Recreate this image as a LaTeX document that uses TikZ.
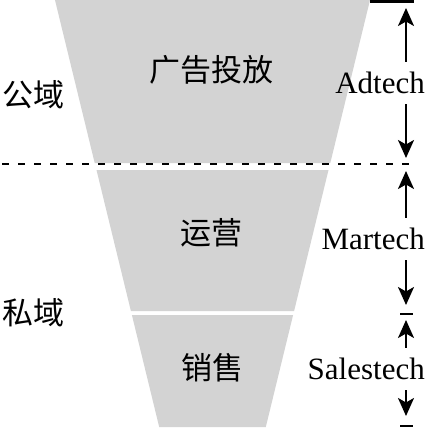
\documentclass[tikz,border=0pt]{standalone}
\usepackage{fontspec}
\setmainfont{Liberation Serif}
\newfontfamily\cjk{Noto Sans CJK SC}
\usetikzlibrary{arrows.meta}
\definecolor{funnelgray}{RGB}{211,211,211}
\tikzset{
  layer/.style={fill=funnelgray},
  cntext/.style={font=\cjk\fontsize{31}{36}\selectfont},
  techlabel/.style={font=\fontsize{31}{36}\selectfont, anchor=east, inner xsep=0pt, inner ysep=10pt},
  span/.style={->, line width=2.2pt},
  tickbar/.style={line width=2.5pt},
  divider/.style={dash pattern=on 7pt off 9pt, line width=2pt},
}
\begin{document}
\begin{tikzpicture}[x=1pt, y=-1pt, >={Stealth[length=18pt, width=16pt, inset=4.5pt]}]
    \useasboundingbox (0,0) rectangle (426,431);
    \clip (0,0) rectangle (426,431);

    % Trichter
    \fill [layer] (50.1,-20) -- (374.9,-20) -- (330.3,163) -- (94.7,163) -- cycle;
    \fill [layer] (96.5,170) -- (328.5,170) -- (294.1,311) -- (130.9,311) -- cycle;
    \fill [layer] (131.9,315) -- (293.1,315) -- (265.8,427) -- (159.2,427) -- cycle;

    % Texte im Trichter
    \node [cntext] (ads) at (211,70) {广告投放};
    \node [cntext] (ops) at (211,233) {运营};
    \node [cntext] (sales) at (212,368) {销售};

    % Bereiche links
    \node [cntext] (public) at (33,95) {公域};
    \node [cntext] (private) at (33,313) {私域};

    % Trennlinie
    \coordinate (divl) at (2,164);
    \coordinate (divr) at (410,164);
    \draw [divider] (divl) -- (divr);

    % Markierungen rechts
    \coordinate (adtick) at (392,1.5);
    \coordinate (mttick) at (406.5,314);
    \coordinate (sltick) at (406.5,426);
    \draw [tickbar] ([xshift=-22pt]adtick) -- ([xshift=22pt]adtick);
    \draw [tickbar] ([xshift=-6.5pt]mttick) -- ([xshift=6.5pt]mttick);
    \draw [tickbar] ([xshift=-6.5pt]sltick) -- ([xshift=6.5pt]sltick);

    % Adtech
    \node [techlabel] (ad) at (425,83) {Adtech};
    \coordinate (adtop) at (406,8);
    \coordinate (adbot) at (406,158);
    \draw [span] (ad.north -| adtop) -- (adtop);
    \draw [span] (ad.south -| adbot) -- (adbot);

    % Martech
    \node [techlabel] (mt) at (425,239) {Martech};
    \coordinate (mttop) at (406,171);
    \coordinate (mtbot) at (406,305);
    \draw [span] (mt.north -| mttop) -- (mttop);
    \draw [span] (mt.south -| mtbot) -- (mtbot);

    % Salestech
    \node [techlabel] (sl) at (425,369) {Salestech};
    \coordinate (sltop) at (406,320);
    \coordinate (slbot) at (406,416);
    \draw [span] (sl.north -| sltop) -- (sltop);
    \draw [span] (sl.south -| slbot) -- (slbot);
\end{tikzpicture}
\end{document}
